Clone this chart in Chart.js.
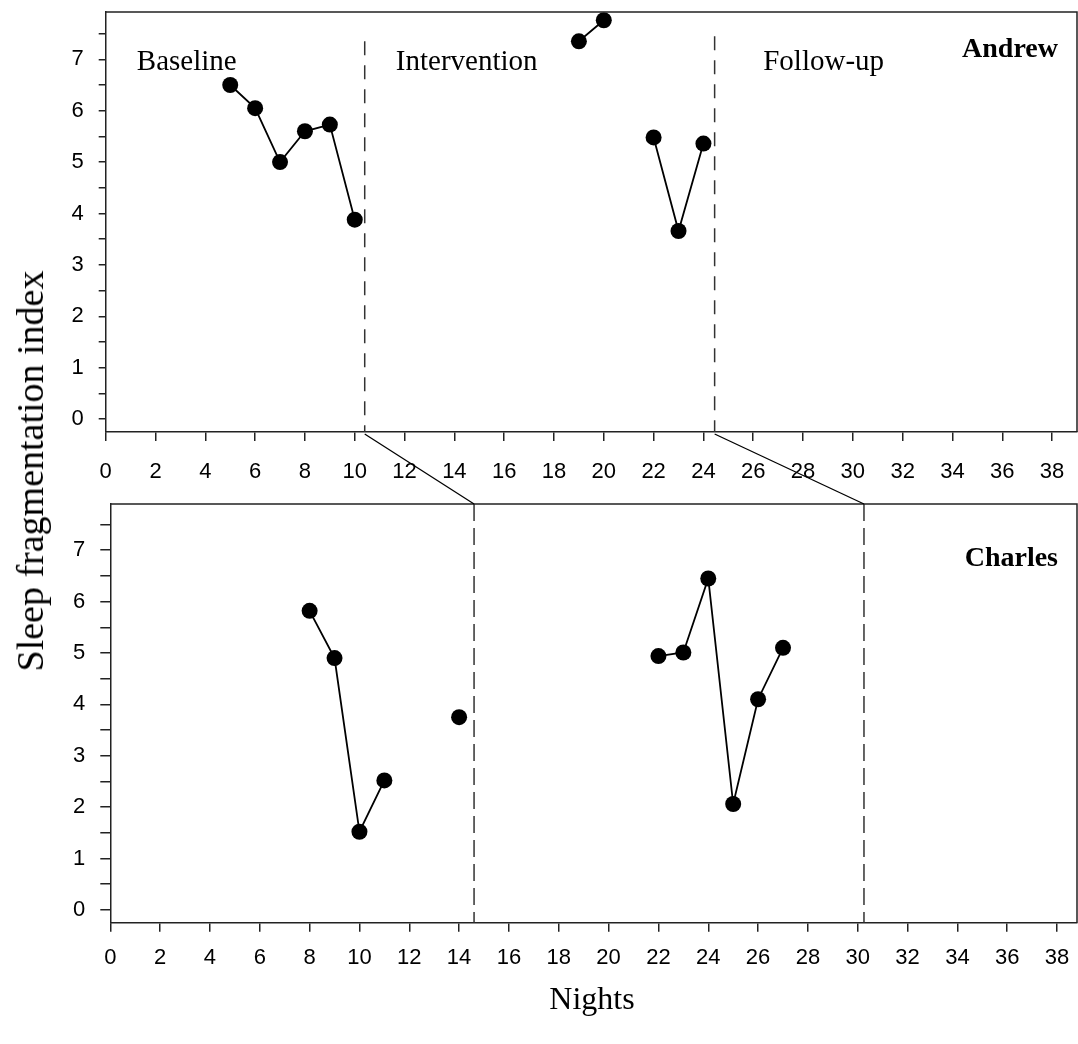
<!DOCTYPE html>
<html>
<head>
<meta charset="utf-8">
<script src="https://cdn.jsdelivr.net/npm/chart.js@4.4.1/dist/chart.umd.min.js"></script>
<style>
  body { margin: 0; background: #fff; }
  #wrap { position: relative; width: 1078px; height: 1044px; background: #fff; }
  #wrap canvas { position: absolute; left: 0; }
  .title { position: absolute; font-family: 'Liberation Serif', 'Times New Roman', serif; font-size: 32px; line-height: 32px; color: #000; white-space: nowrap; }
</style>
</head>
<body>
<div id="wrap">
  <canvas id="andrewChart" width="1078" height="495" style="top:0"></canvas>
  <canvas id="charlesChart" width="1078" height="549" style="top:495px"></canvas>
  <canvas id="links" width="1078" height="1044" style="top:0;pointer-events:none"></canvas>
  <div class="title" id="yTitle" style="left:30px;top:471px;font-size:38px;line-height:38px;transform:translate(-50%,-50%) rotate(-90deg)">Sleep fragmentation index</div>
  <div class="title" id="xTitle" style="left:592px;top:982px;transform:translateX(-50%)">Nights</div>
</div>
<script>
// Valeurs
const phaseNames = ['Baseline', 'Intervention', 'Follow-up'];
const xTicks = [0, 2, 4, 6, 8, 10, 12, 14, 16, 18, 20, 22, 24, 26, 28, 30, 32, 34, 36, 38];
const yTicks = [0, 0.5, 1, 1.5, 2, 2.5, 3, 3.5, 4, 4.5, 5, 5.5, 6, 6.5, 7, 7.5];

// Andrew
const andrewBaselineNights = [5, 6, 7, 8, 9, 10];
const andrewBaselineValues = [6.5, 6.05, 5.0, 5.6, 5.73, 3.88];
const andrewInterventionNights = [19, 20, 21, 22, 23, 24];
const andrewInterventionValues = [7.35, 7.76, null, 5.48, 3.66, 5.36];
const andrewPhaseChanges = [10.4, 24.45];

// Charles
const charlesBaselineNights = [8, 9, 10, 11, 12, 13, 14];
const charlesBaselineValues = [5.82, 4.9, 1.52, 2.52, null, null, 3.75];
const charlesInterventionNights = [22, 23, 24, 25, 26, 27];
const charlesInterventionValues = [4.94, 5.01, 6.45, 2.06, 4.1, 5.1];
const charlesPhaseChanges = [14.6, 30.25];

const axisColor = '#222';
const tickFont = { family: "'Liberation Sans', Arial, sans-serif", size: 22 };
const serif = "'Liberation Serif', 'Times New Roman', serif";

function toPoints(nights, values) {
  return nights.map((n, i) => ({ x: n, y: values[i] }));
}

function series(nights, values) {
  return {
    data: toPoints(nights, values),
    borderColor: '#000',
    borderWidth: 1.8,
    backgroundColor: '#000',
    pointRadius: 8,
    pointBorderWidth: 0,
    pointBackgroundColor: '#000',
    spanGaps: false,
    clip: false
  };
}

// pas de marge automatique autour de la zone de tracé
function noPadding(s) {
  s.paddingLeft = 0;
  s.paddingRight = 0;
  s.paddingTop = 0;
  s.paddingBottom = 0;
}

// cadre, lignes de phase, textes
const panelDecor = {
  id: 'panelDecor',
  afterDatasetsDraw(chart, args, o) {
    const { ctx, chartArea: a, scales: { x, y } } = chart;
    ctx.save();
    ctx.strokeStyle = '#333';
    ctx.lineWidth = 1.5;
    ctx.setLineDash(o.dash);
    o.phases.forEach((p, i) => {
      const px = x.getPixelForValue(p);
      const top = o.lineTops ? y.getPixelForValue(o.lineTops[i]) : a.top;
      ctx.beginPath();
      ctx.moveTo(px, top);
      ctx.lineTo(px, a.bottom);
      ctx.stroke();
    });
    ctx.setLineDash([]);
    ctx.strokeStyle = axisColor;
    ctx.beginPath();
    ctx.moveTo(a.left, a.top);
    ctx.lineTo(a.right, a.top);
    ctx.lineTo(a.right, a.bottom);
    ctx.stroke();

    ctx.fillStyle = '#000';
    ctx.textBaseline = 'alphabetic';
    if (o.labelX) {
      ctx.font = '29px ' + serif;
      ctx.textAlign = 'left';
      phaseNames.forEach((t, i) => {
        ctx.fillText(t, x.getPixelForValue(o.labelX[i]), y.getPixelForValue(o.labelY));
      });
    }
    ctx.font = 'bold 28px ' + serif;
    ctx.textAlign = 'right';
    ctx.fillText(o.name, a.right - 19, a.top + o.nameOffset);
    ctx.restore();
  }
};

function makeChart(id, datasets, cfg) {
  return new Chart(document.getElementById(id), {
    type: 'line',
    data: { datasets },
    plugins: [panelDecor],
    options: {
      responsive: false,
      animation: false,
      events: [],
      layout: { autoPadding: false, padding: { top: cfg.padTop, right: 1, left: 0, bottom: 0 } },
      plugins: {
        legend: { display: false },
        tooltip: { enabled: false },
        panelDecor: cfg.decor
      },
      scales: {
        x: {
          type: 'linear',
          min: 0,
          max: cfg.xMax,
          afterBuildTicks: s => { s.ticks = xTicks.map(v => ({ value: v })); },
          afterFit: s => { s.height = cfg.xAxisHeight; noPadding(s); },
          grid: { drawOnChartArea: false, tickLength: 9, color: axisColor, lineWidth: 1.5 },
          border: { color: axisColor, width: 1.5 },
          ticks: { padding: cfg.xPad, font: tickFont, color: '#000', maxRotation: 0, autoSkip: false }
        },
        y: {
          type: 'linear',
          min: -0.25,
          max: cfg.yMax,
          afterBuildTicks: s => { s.ticks = yTicks.map(v => ({ value: v })); },
          afterFit: s => { s.width = cfg.yAxisWidth; noPadding(s); },
          grid: { drawOnChartArea: false, tickLength: cfg.yTickLen, color: axisColor, lineWidth: 1.5 },
          border: { color: axisColor, width: 1.5 },
          ticks: {
            padding: 15, font: tickFont, color: '#000', autoSkip: false,
            callback: v => Number.isInteger(v) ? String(v) : ''
          }
        }
      }
    }
  });
}

const andrewChart = makeChart('andrewChart', [
  series(andrewBaselineNights, andrewBaselineValues),
  series(andrewInterventionNights, andrewInterventionValues)
], {
  padTop: 12, xMax: 39, yMax: 7.92, xAxisHeight: 63, yAxisWidth: 105.7, xPad: 18, yTickLen: 7,
  decor: {
    phases: andrewPhaseChanges, lineTops: [7.35, 7.45], dash: [14, 10],
    labelX: [1.25, 11.65, 26.4], labelY: 6.8,
    name: 'Andrew', nameOffset: 44.5
  }
});

const charlesChart = makeChart('charlesChart', [
  series(charlesBaselineNights, charlesBaselineValues),
  series(charlesInterventionNights, charlesInterventionValues)
], {
  padTop: 9, xMax: 38.8, yMax: 7.9, xAxisHeight: 121.3, yAxisWidth: 110.3, xPad: 13, yTickLen: 10,
  decor: {
    phases: charlesPhaseChanges, lineTops: null, dash: [17, 7],
    name: 'Charles', nameOffset: 62
  }
});

// traits reliant les changements de phase entre les deux panneaux
const links = document.getElementById('links').getContext('2d');
const offset = 495;
links.strokeStyle = '#000';
links.lineWidth = 1.3;
andrewPhaseChanges.forEach((p, i) => {
  links.beginPath();
  links.moveTo(andrewChart.scales.x.getPixelForValue(p), andrewChart.chartArea.bottom + 2);
  links.lineTo(charlesChart.scales.x.getPixelForValue(charlesPhaseChanges[i]), offset + charlesChart.chartArea.top);
  links.stroke();
});
</script>
</body>
</html>
